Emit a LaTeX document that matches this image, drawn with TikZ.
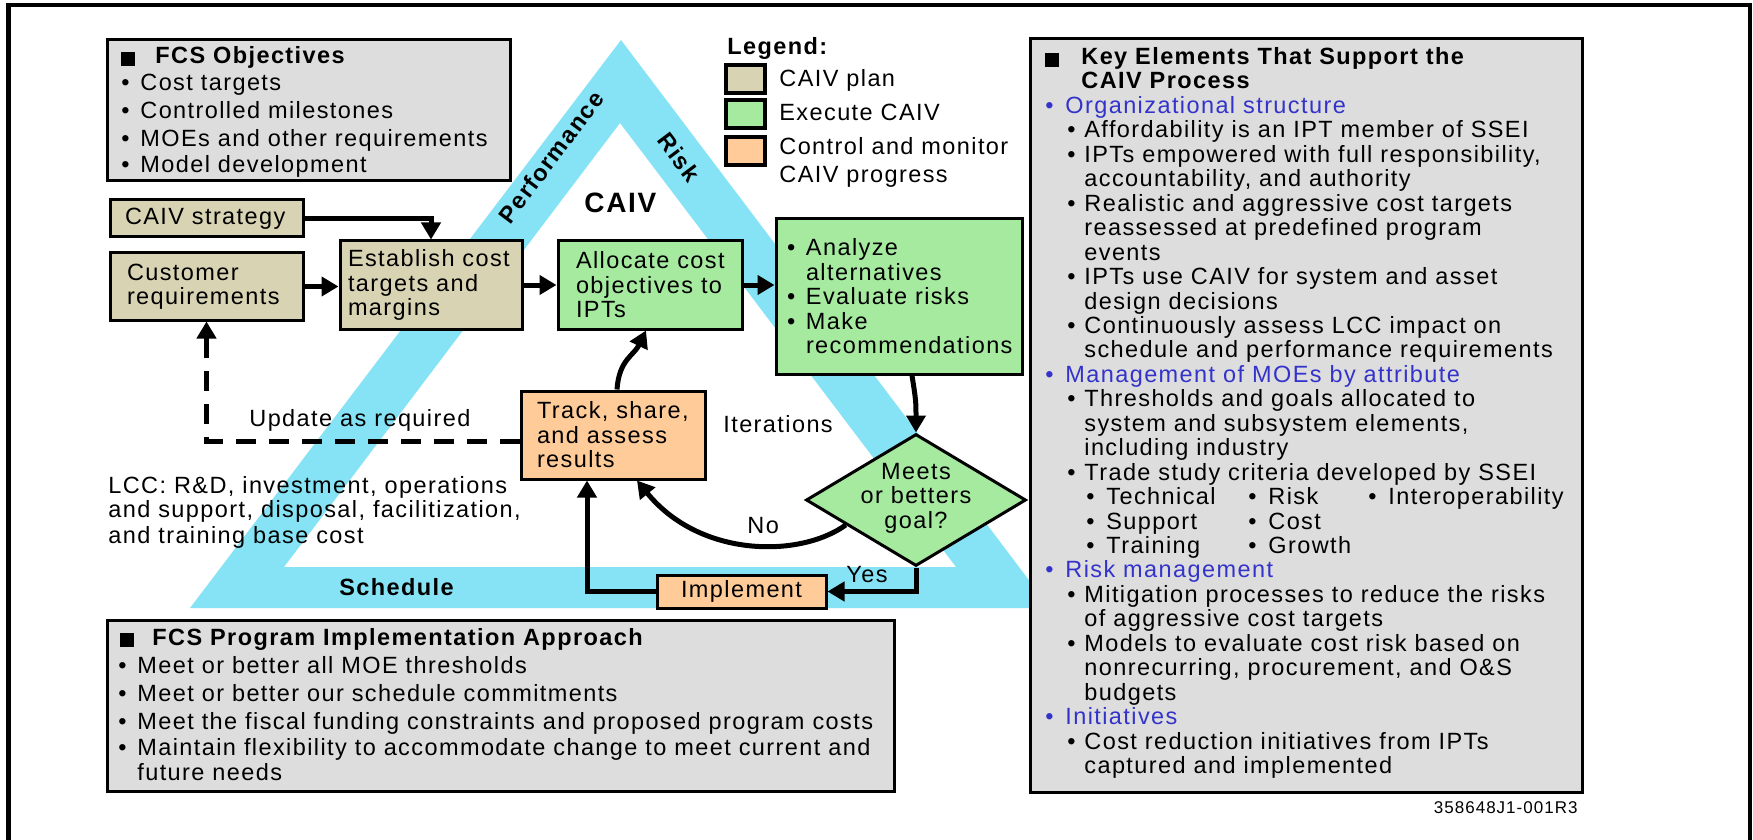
\documentclass[tikz,border=0pt]{standalone}
\usepackage{fontspec}
\setmainfont{Liberation Sans}[LetterSpace=6]
\usetikzlibrary{arrows.meta,shapes.geometric,calc}
\newdimen\pxu \pxu=0.5pt
\definecolor{tanc}{RGB}{216,211,178}
\definecolor{greenc}{RGB}{166,234,160}
\definecolor{orangec}{RGB}{255,204,153}
\definecolor{cyanc}{RGB}{133,227,245}
\definecolor{grayc}{RGB}{221,221,221}
\definecolor{bluec}{RGB}{51,51,204}
\newcommand\nb[1]{\mbox{#1}}
\newcommand\bl[1]{\makebox[#1\pxu][l]{\textbullet}}
\newcommand\bodyfont{\fontsize{11.75pt}{12.25pt}\selectfont}
\tikzset{
  flowbox/.style={draw, line width=1.5pt, inner ysep=0pt, align=left, font=\bodyfont},
  tanbox/.style={flowbox, fill=tanc},
  grnbox/.style={flowbox, fill=greenc},
  orgbox/.style={flowbox, fill=orangec},
  graybox/.style={draw, line width=1.5pt, fill=grayc, inner sep=0pt},
  txt/.style={inner sep=0pt, anchor=base west, font=\bodyfont},
  bandlbl/.style={inner sep=0pt, font=\bodyfont\bfseries},
  arr/.style={line width=2.5pt, -{Triangle[length=8.5pt,width=9.5pt]}},
  dasharr/.style={arr, dash pattern=on 10pt off 6.5pt},
  legbox/.style={draw, line width=2pt, inner sep=0pt, minimum width=19.5pt, minimum height=14pt},
}
\begin{document}
\begin{tikzpicture}[x=0.5pt,y=-0.5pt]
\useasboundingbox (0,0) rectangle (1753,840);
% frame
\draw[line width=2.25pt] (8.5,840) -- (8.5,5) -- (1750,5) -- (1750,840);
% CAIV triangle band
\fill[cyanc, even odd rule] (621,40) -- (190,608) -- (1050,608) -- cycle
  (620,123) -- (284,567) -- (956,567) -- cycle;
\node[bandlbl, rotate=53] (perf) at (551,157) {Performance};
\node[bandlbl, rotate=-53] (risk) at (679,157) {Risk};
\node[bandlbl, anchor=base west] (sched) at (339,595) {Schedule};
\node[inner sep=0pt, anchor=base west, font=\fontsize{14pt}{16pt}\selectfont\bfseries] (caiv) at (584,213) {CAIV};

% gray boxes
\node[graybox, minimum width=201.5pt, minimum height=70.5pt] (obj) at (308.5,110.5) {};
\node[graybox, minimum width=276pt, minimum height=376.5pt] (kel) at (1306,415.5) {};
\node[graybox, minimum width=393.5pt, minimum height=85.5pt] (prog) at (500.5,705.5) {};

% FCS Objectives
\fill (121,52) rectangle (135,66);
\node[txt, font=\bodyfont\bfseries] (objt) at (155,63.5) {FCS Objectives};
\foreach \i/\y/\t in {1/90.5/{Cost targets}, 2/118.5/{Controlled milestones},
  3/146.5/{MOEs and other requirements}, 4/172.5/{Model development}}
  \node[txt] (obj\i) at (121,\y) {\bl{19}\t};

% FCS Program Implementation Approach
\fill (120,633) rectangle (134,647);
\node[txt, font=\bodyfont\bfseries] (progt) at (152,645.5) {FCS Program Implementation Approach};
\foreach \i/\y/\t in {1/673.5/{Meet or better all MOE thresholds},
  2/701.5/{Meet or better our schedule commitments},
  3/729.5/{Meet the fiscal funding constraints and proposed program costs},
  4/755.5/{Maintain flexibility to accommodate change to meet current and}}
  \node[txt] (prog\i) at (118,\y) {\bl{19}\t};
\node[txt] (prog5) at (137,780.5) {future needs};

% Key elements
\fill (1045,53) rectangle (1059,67);
\foreach \i/\x/\t in {
  0/1081/{\bfseries Key Elements That Support the},
  1/1081/{\bfseries CAIV Process},
  2/1045/{\color{bluec}\bl{20}Organizational structure},
  3/1067/{\bl{17}Affordability is an IPT member of SSEI},
  4/1067/{\bl{17}IPTs empowered with full responsibility,},
  5/1084/{accountability, and authority},
  6/1067/{\bl{17}Realistic and aggressive cost targets},
  7/1084/{reassessed at predefined program},
  8/1084/{events},
  9/1067/{\bl{17}IPTs use CAIV for system and asset},
  10/1084/{design decisions},
  11/1067/{\bl{17}Continuously assess LCC impact on},
  12/1084/{schedule and performance requirements},
  13/1045/{\color{bluec}\bl{20}Management of MOEs by attribute},
  14/1067/{\bl{17}Thresholds and goals allocated to},
  15/1084/{system and subsystem elements,},
  16/1084/{including industry},
  17/1067/{\bl{17}Trade study criteria developed by SSEI},
  21/1045/{\color{bluec}\bl{20}Risk management},
  22/1067/{\bl{17}Mitigation processes to reduce the risks},
  23/1084/{of aggressive cost targets},
  24/1067/{\bl{17}Models to evaluate cost risk based on},
  25/1084/{nonrecurring, procurement, and O\&S},
  26/1084/{budgets},
  27/1045/{\color{bluec}\bl{20}Initiatives},
  28/1067/{\bl{17}Cost reduction initiatives from IPTs},
  29/1084/{captured and implemented}}
  \node[txt] (ke\i) at (\x,64.5+\i*24.45) {\t};
\foreach \n/\i/\x/\t in {1/18/1086/Technical, 2/18/1248/Risk, 3/18/1368/Interoperability,
  4/19/1086/Support, 5/19/1248/Cost, 6/20/1086/Training, 7/20/1248/Growth}
  \node[txt] (kc\n) at (\x,64.5+\i*24.45) {\bl{20}\t};
\node[inner sep=0pt, anchor=base east, font=\fontsize{8.5pt}{9pt}\selectfont] (id) at (1578,813) {358648J1-001R3};

% legend
\node[txt, font=\bodyfont\bfseries] (leg) at (727,55) {Legend:};
\node[legbox, fill=tanc] (lg1) at (745.5,79) {};
\node[legbox, fill=greenc] (lg2) at (745.5,114.5) {};
\node[legbox, fill=orangec] (lg3) at (745.5,151.5) {};
\node[txt] (lt1) at (779,87) {CAIV plan};
\node[txt] (lt2) at (779,121) {Execute CAIV};
\node[txt] (lt3) at (779,155) {Control and monitor};
\node[txt] (lt4) at (779,183) {CAIV progress};

% flowchart boxes
\node[tanbox, inner xsep=7.5pt, text width=81.5pt, minimum height=18.5pt] (strat) at (206.5,218.5) {\nb{CAIV strategy}};
\node[tanbox, inner xsep=8.5pt, text width=79.5pt, minimum height=33.5pt] (cust) at (206.5,286.5) {\nb{Customer}\\\nb{requirements}};
\node[tanbox, inner xsep=4pt, text width=83pt, minimum height=44pt] (est) at (431,285) {\nb{Establish cost}\\\nb{targets and}\\\nb{margins}};
\node[grnbox, inner xsep=9pt, text width=74pt, minimum height=44pt] (alloc) at (650,285) {\nb{Allocate cost}\\\nb{objectives to}\\\nb{IPTs}};
\node[grnbox, inner xsep=5.5pt, text width=112pt, minimum height=77.5pt] (anal) at (899,296.5)
  {\nb{\bl{19}Analyze}\\\nb{\hspace*{9.5pt}alternatives}\\\nb{\bl{19}Evaluate risks}\\\nb{\bl{19}Make}\\\nb{\hspace*{9.5pt}recommendations}};
\node[orgbox, inner xsep=8pt, text width=76pt, minimum height=44pt] (track) at (613,435) {\nb{Track, share,}\\\nb{and assess}\\\nb{results}};
\node[orgbox, inner xsep=0pt, text width=84.5pt, align=center, minimum height=16.5pt] (impl) at (741.5,591.5) {Implement};
\node[diamond, draw, line width=1.5pt, fill=greenc, inner sep=0pt, minimum width=110pt, minimum height=66pt] (dia) at (916,500) {};
\node[inner sep=0pt, align=center, font=\bodyfont] (diat) at (916,498) {Meets\\or betters\\goal?};

% labels
\node[txt] (upd) at (249,426) {Update as required};
\node[txt] (iter) at (723,432) {Iterations};
\node[txt] (no) at (747,533) {No};
\node[txt] (yes) at (846,582) {Yes};
\node[txt] (lcc1) at (108,493) {LCC: R\&D, investment, operations};
\node[txt] (lcc2) at (108,517) {and support, disposal, facilitization,};
\node[txt] (lcc3) at (108,543) {and training base cost};

% connectors
\draw[arr] (strat.east) -| (est.north);
\draw[arr] (cust.east) -- (cust.east -| est.west);
\draw[arr] (est.east) -- (alloc.west);
\draw[arr] (alloc.east) -- (alloc.east -| anal.west);
\draw[arr] ([xshift=6.5pt]anal.south) .. controls +(4,25) and +(0,-30) .. (dia.north);
\draw[arr] (dia.south) |- (impl.east);
\draw[arr] (impl.west) -| ([xshift=-13pt]track.south);
\draw[arr] ($(dia.west)!0.37!(dia.south)$) .. controls (800,558) and (700,558) .. ([xshift=12pt]track.south);
\draw[arr] ([xshift=2pt]track.north) .. controls +(2,-30) and +(-12,25) .. ([xshift=-2pt]alloc.south);
\draw[dasharr] ([yshift=-3pt]track.west) -| (cust.south);
\end{tikzpicture}
\end{document}
